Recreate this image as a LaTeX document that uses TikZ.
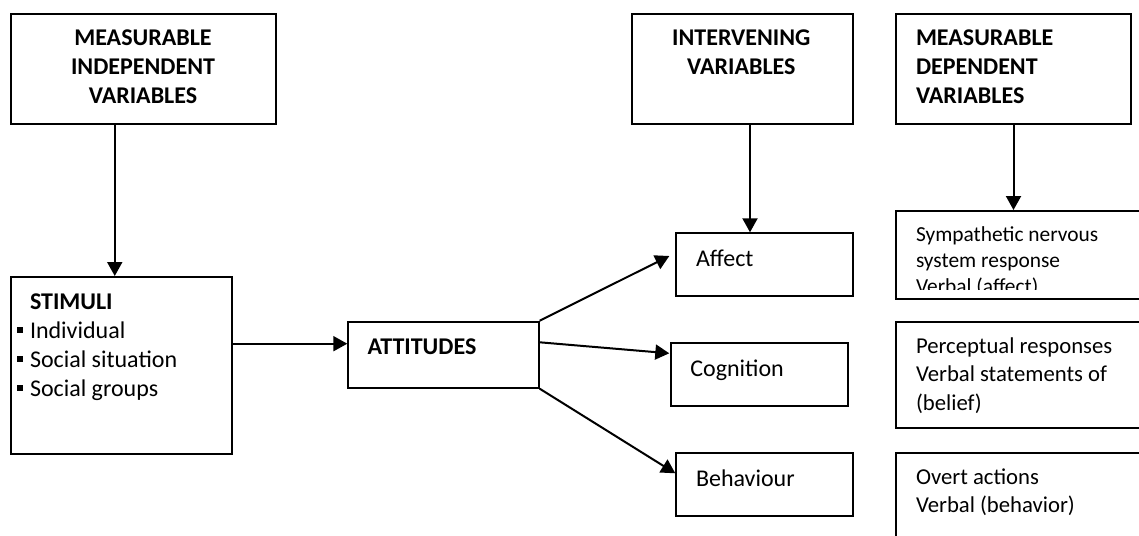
\documentclass[tikz,border=0pt]{standalone}
\usepackage{fontspec}
\setmainfont{Carlito}
\usepackage{tikz}
\usetikzlibrary{arrows.meta}
\newcommand{\bul}{\rule[3.2pt]{2.8pt}{2.8pt}\hspace{3.7pt}}
\newcommand{\topstrut}{\rule{0pt}{10.15pt}}

\begin{document}
\begin{tikzpicture}[x=0.5pt,y=-0.5pt,>={Triangle[length=7pt,width=7.5pt]},
  line width=1pt,
  var box/.style={draw,rectangle,anchor=north west,inner sep=0pt},
  var text/.style={inner sep=0pt,anchor=north west,align=left,
    font=\fontsize{12pt}{14.5pt}\selectfont,execute at begin node=\topstrut},
  var title/.style={var text,font=\fontsize{12pt}{14.5pt}\selectfont\bfseries},
  dep text/.style={var text,font=\fontsize{11.35pt}{14.2pt}\selectfont}]

  \clip (0,0) rectangle (1139,535);

  % boxes
  \node[var box,minimum width=132.5pt,minimum height=55pt] (1) at (10,12.7) {};
  \node[var box,minimum width=110.35pt,minimum height=88.35pt] (2) at (10,276) {};
  \node[var box,minimum width=95.2pt,minimum height=33pt] (3) at (347.3,320.7) {};
  \node[var box,minimum width=110.5pt,minimum height=55pt] (4) at (630.7,12.7) {};
  \node[var box,minimum width=88.2pt,minimum height=31.35pt] (5) at (675.3,232.3) {};
  \node[var box,minimum width=88.35pt,minimum height=31.35pt] (6) at (670,342.3) {};
  \node[var box,minimum width=88.2pt,minimum height=31.35pt] (7) at (675.3,452.3) {};
  \node[var box,minimum width=117.5pt,minimum height=55pt] (8) at (895,12.7) {};
  \node[var box,minimum width=130pt,minimum height=44.15pt] (9) at (895,210) {};
  \node[var box,minimum width=130pt,minimum height=53.3pt] (10) at (895,320.7) {};
  \node[var box,minimum width=130pt,minimum height=50pt] (11) at (895,452.3) {};

  % texts
  \node[var title,anchor=north,align=center] (1t) at (143,29.2)
    {MEASURABLE\\INDEPENDENT\\VARIABLES};
  \node[var text] (2t) at (16,293.2)
    {\hspace*{6.5pt}\textbf{STIMULI}\\\bul Individual\\\bul Social situation\\\bul Social groups};
  \node[var title] (3t) at (366.7,333.4) {ATTITUDES};
  \node[var title,anchor=north,align=center] (4t) at (741.3,29.2)
    {INTERVENING\\VARIABLES};
  \node[var text] (5t) at (695,244.7) {Affect};
  \node[var text] (6t) at (689.3,354.7) {Cognition};
  \node[var text] (7t) at (695,464.7) {Behaviour};
  \node[var title] (8t) at (915,29.2) {MEASURABLE\\DEPENDENT\\VARIABLES};
  \begin{scope}
    \clip (895,210) rectangle (1139,289.3);
    \node[var text,font=\fontsize{10.7pt}{13pt}\selectfont] (9t) at (915,225.9)
      {Sympathetic nervous\\system response\\Verbal (affect)};
  \end{scope}
  \node[dep text] (10t) at (915,336.5)
    {Perceptual responses\\Verbal statements of\\(belief)};
  \node[dep text] (11t) at (915,467.5) {Overt actions\\Verbal (behavior)};

  % arrows
  \path[->]
    ([xshift=-3.3pt]2.north |- 1.south) edge ([xshift=-3.3pt]2.north)
    ([xshift=3.9pt]4.south) edge ([xshift=3.9pt]4.south |- 5.north)
    (8.south) edge (8.south |- 9.north)
    ([yshift=5.5pt]3.west -| 2.east) edge ([yshift=5.5pt]3.west)
    (3.north east) edge ([xshift=-3pt,yshift=-11.85pt]5.north west)
    ([yshift=-10.8pt]3.north east) edge ([xshift=-0.35pt,yshift=-5.5pt]6.north west)
    (3.south east) edge ([yshift=-10.5pt]7.north west);
\end{tikzpicture}
\end{document}
